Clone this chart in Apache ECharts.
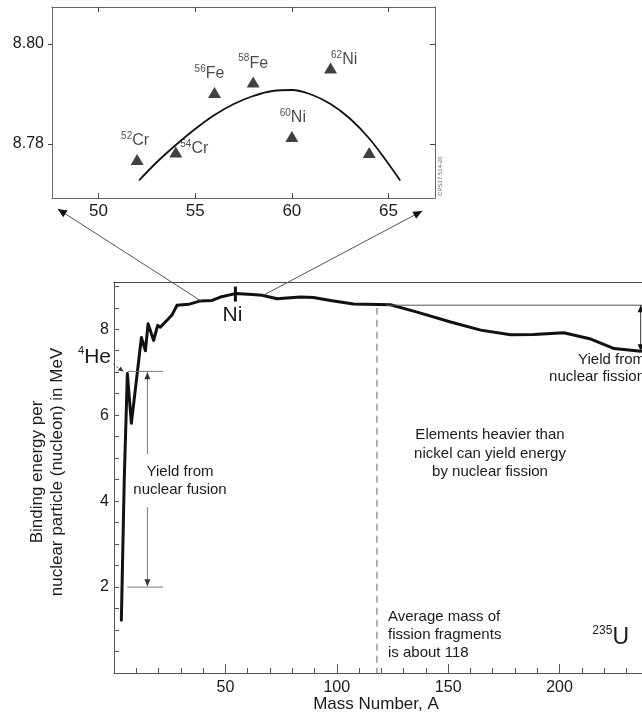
<!DOCTYPE html>
<html>
<head>
<meta charset="utf-8">
<script src="https://cdn.jsdelivr.net/npm/echarts@6/dist/echarts.min.js"></script>
<style>
  html, body { margin: 0; padding: 0; background: #fff; }
  #chart { width: 642px; height: 715px; }
</style>
</head>
<body>
<div id="chart"></div>
<script>
// Binding energy per nucleon (MeV) against mass number A
const massNumbers = [3.3, 4.6, 6.0, 7.8, 12.3, 14.1, 15.3, 17.8, 19.6, 20.8, 23.8, 26.0, 28.3, 33.5, 38.8, 44.0, 47.8, 54.5, 62.0, 66.5, 73.2, 83.7, 89.5, 97.2, 107.5, 124.1, 136.1, 151.1, 164.6, 178.0, 188.4, 201.9, 213.5, 224.5, 236.4];
const bindingEnergies = [1.23, 4.5, 6.97, 5.81, 7.81, 7.50, 8.13, 7.74, 8.09, 8.05, 8.21, 8.33, 8.56, 8.58, 8.66, 8.67, 8.75, 8.83, 8.81, 8.79, 8.71, 8.75, 8.74, 8.67, 8.59, 8.57, 8.40, 8.17, 7.98, 7.87, 7.88, 7.92, 7.78, 7.55, 7.49];

// Close-up of the iron / nickel peak
const insetCurveMass = [52.1, 53.0, 54.0, 55.0, 56.0, 57.0, 58.0, 59.0, 60.0, 61.0, 62.0, 63.0, 64.0, 65.0, 65.6];
const insetCurveEnergy = [8.7727, 8.7763, 8.7798, 8.7830, 8.7858, 8.7880, 8.7896, 8.7906, 8.7908, 8.7899, 8.7880, 8.7851, 8.7811, 8.7760, 8.7727];
const isotopeMass = [52, 54, 56, 58, 60, 62, 64];
const isotopeEnergy = [8.7769, 8.7784, 8.7903, 8.7924, 8.7815, 8.7952, 8.7783];
const isotopeMassText = ['52', '54', '56', '58', '60', '62', ''];
const isotopeSymbol = ['Cr', 'Cr', 'Fe', 'Fe', 'Ni', 'Ni', ''];

// Tick values
const mainXLabels = [50, 100, 150, 200];
const mainXMinorTicks = [10, 20, 30, 40, 60, 70, 80, 90, 110, 120, 130, 140, 160, 170, 180, 190, 210, 220, 230];
const mainYLabels = [2, 4, 6, 8];
const mainYTicks = [0.5, 1, 1.5, 2, 2.5, 3, 3.5, 4, 4.5, 5, 5.5, 6, 6.5, 7, 7.5, 8, 8.5, 9];
const insetXLabels = [50, 55, 60, 65];
const insetYLabels = [8.78, 8.80];

// Annotation values
const nickelMass = 54.5;
const nickelEnergy = 8.83;
const averageFragmentMass = 118;
const fissionTopEnergy = 8.56;
const fissionBottomEnergy = 7.49;
const fusionTopEnergy = 7.02;
const fusionBottomEnergy = 2.0;

const FONT = "'Liberation Sans', Arial, sans-serif";
const INK = '#1a1a1a';
const AXIS = '#555';

// label placement for the isotope markers
const isotopeLabelPlacement = [
  { position: 'top', distance: 3, offset: [-2, 0] },
  { position: 'right', distance: 0, offset: [-2, -3] },
  { position: 'top', distance: 3, offset: [-5, 0] },
  { position: 'top', distance: 3, offset: [0, 0] },
  { position: 'top', distance: 3, offset: [1, 0] },
  { position: 'right', distance: 0, offset: [-6, -8] },
  { show: false }
];

const supRich = {
  s: { fontSize: 10, fontFamily: FONT, color: INK, verticalAlign: 'top', lineHeight: 11 },
  e: { fontSize: 16, fontFamily: FONT, color: INK, lineHeight: 20 }
};

const hiddenAxisParts = { axisLabel: { show: false }, splitLine: { show: false } };

const option = {
  animation: false,
  backgroundColor: '#fff',
  grid: [
    { left: 114, top: 282, right: 0, bottom: 42 },
    { left: 52, top: 7, width: 383, height: 191 }
  ],
  xAxis: [
    {
      gridIndex: 0, type: 'value', position: 'bottom', min: 0, max: 237,
      axisLine: { lineStyle: { color: AXIS, width: 1 } },
      axisTick: { inside: true, length: 5, customValues: mainXMinorTicks, lineStyle: { color: AXIS } },
      axisLabel: { customValues: mainXLabels, fontSize: 16, color: INK, fontFamily: FONT, margin: 7 },
      splitLine: { show: false }
    },
    Object.assign({
      gridIndex: 0, type: 'value', position: 'bottom', min: 0, max: 237,
      axisLine: { show: false },
      axisTick: { inside: true, length: 9, customValues: mainXLabels, lineStyle: { color: AXIS } }
    }, hiddenAxisParts),
    Object.assign({
      gridIndex: 0, type: 'value', position: 'top', min: 0, max: 237,
      axisLine: { lineStyle: { color: '#444', width: 1 } },
      axisTick: { show: false }
    }, hiddenAxisParts),
    {
      gridIndex: 1, type: 'value', position: 'bottom', min: 47.6, max: 67.4,
      axisLine: { lineStyle: { color: '#666', width: 1 } },
      axisTick: { inside: true, length: 5, customValues: insetXLabels, lineStyle: { color: '#444' } },
      axisLabel: { customValues: insetXLabels, fontSize: 17, color: INK, fontFamily: FONT, margin: 5 },
      splitLine: { show: false }
    },
    Object.assign({
      gridIndex: 1, type: 'value', position: 'top', min: 47.6, max: 67.4,
      axisLine: { lineStyle: { color: '#666', width: 1 } },
      axisTick: { inside: true, length: 5, customValues: insetXLabels, lineStyle: { color: '#444' } }
    }, hiddenAxisParts)
  ],
  yAxis: [
    {
      gridIndex: 0, type: 'value', position: 'left', min: 0, max: 9.1,
      axisLine: { show: true, lineStyle: { color: AXIS, width: 1 } },
      axisTick: { show: true, inside: true, length: 5, customValues: mainYTicks, lineStyle: { color: AXIS } },
      axisLabel: { customValues: mainYLabels, fontSize: 16, color: INK, fontFamily: FONT, margin: 5 },
      splitLine: { show: false }
    },
    {
      gridIndex: 1, type: 'value', position: 'left', min: 8.7692, max: 8.8074,
      axisLine: { show: true, lineStyle: { color: '#666', width: 1 } },
      axisTick: { show: true, inside: false, length: 4, customValues: insetYLabels, lineStyle: { color: '#444' } },
      axisLabel: { customValues: insetYLabels, formatter: v => v.toFixed(2), fontSize: 16, color: INK, fontFamily: FONT, margin: 8 },
      splitLine: { show: false }
    },
    Object.assign({
      gridIndex: 1, type: 'value', position: 'right', min: 8.7692, max: 8.8074,
      axisLine: { show: true, lineStyle: { color: '#666', width: 1 } },
      axisTick: { show: true, inside: true, length: 5, customValues: insetYLabels, lineStyle: { color: '#444' } }
    }, hiddenAxisParts)
  ],
  series: [
    {
      name: 'Binding energy', type: 'line', xAxisIndex: 0, yAxisIndex: 0,
      data: massNumbers.map((a, i) => [a, bindingEnergies[i]]),
      symbol: 'none', silent: true, z: 5,
      lineStyle: { color: '#111', width: 3, join: 'round', cap: 'round' }
    },
    {
      name: 'Fitted peak', type: 'line', xAxisIndex: 3, yAxisIndex: 1,
      data: insetCurveMass.map((a, i) => [a, insetCurveEnergy[i]]),
      smooth: 0.4, symbol: 'none', silent: true,
      lineStyle: { color: '#111', width: 1.8 }
    },
    {
      name: 'Isotopes', type: 'scatter', xAxisIndex: 3, yAxisIndex: 1,
      symbol: 'triangle', symbolSize: [13, 11], silent: true,
      itemStyle: { color: '#111' },
      data: isotopeMass.map((a, i) => ({
        value: [a, isotopeEnergy[i]],
        label: Object.assign({
          show: true,
          formatter: '{s|' + isotopeMassText[i] + '}{e|' + isotopeSymbol[i] + '}',
          rich: supRich
        }, isotopeLabelPlacement[i])
      }))
    }
  ]
};

const chart = echarts.init(document.getElementById('chart'), null, { renderer: 'canvas' });
chart.setOption(option);

const P = p => chart.convertToPixel({ xAxisIndex: 0, yAxisIndex: 0 }, p);
const Q = p => chart.convertToPixel({ xAxisIndex: 3, yAxisIndex: 1 }, p);

function seg(a, b, style) {
  return {
    type: 'line', silent: true, z: 10,
    shape: { x1: a[0], y1: a[1], x2: b[0], y2: b[1] },
    style: Object.assign({ stroke: '#666', lineWidth: 1 }, style)
  };
}
function head(tip, from, len, half, color) {
  const dx = tip[0] - from[0], dy = tip[1] - from[1];
  const d = Math.hypot(dx, dy), ux = dx / d, uy = dy / d;
  const bx = tip[0] - ux * len, by = tip[1] - uy * len;
  return {
    type: 'polygon', silent: true, z: 11,
    shape: { points: [tip, [bx - uy * half, by + ux * half], [bx + uy * half, by - ux * half]] },
    style: { fill: color }
  };
}
function txt(x, y, text, opt) {
  return {
    type: 'text', x: x, y: y, silent: true, z: 12,
    rotation: opt.rotation || 0,
    style: Object.assign({
      text: text, fill: INK, fontFamily: FONT, fontSize: 15,
      align: 'center', verticalAlign: 'middle'
    }, opt.style || {})
  };
}

const g = [];

// connector lines from the main curve to the close-up frame
const leftFrom = P([39, 8.66]), leftTip = Q([47.9, 8.7670]);
const rightFrom = P([67, 8.79]), rightTip = Q([66.74, 8.7666]);
g.push(seg(leftFrom, leftTip, { stroke: '#555' }), head(leftTip, leftFrom, 9, 4, '#111'));
g.push(seg(rightFrom, rightTip, { stroke: '#555' }), head(rightTip, rightFrom, 9, 4, '#111'));

// nickel marker
const ni = P([nickelMass, nickelEnergy]);
g.push(seg([ni[0], ni[1] - 7], [ni[0], ni[1] + 8], { stroke: '#111', lineWidth: 3 }));
g.push(txt(ni[0] - 3, ni[1] + 22, 'Ni', { style: { fontSize: 21 } }));

// average fission fragment mass
g.push(seg(P([averageFragmentMass, 8.5]), P([averageFragmentMass, 0]), { stroke: '#999', lineWidth: 1.5, lineDash: [7, 5] }));

// fission yield bracket
g.push(seg(P([122, fissionTopEnergy]), P([237, fissionTopEnergy]), { stroke: '#555' }));
const fTop = P([236.4, fissionTopEnergy]), fBot = P([236.4, fissionBottomEnergy]);
g.push(seg(fTop, fBot, { stroke: '#333' }), head(fTop, fBot, 7, 3, '#111'), head(fBot, fTop, 7, 3, '#111'));

// fusion yield bracket
g.push(seg(P([6.2, fusionTopEnergy]), P([22, fusionTopEnergy]), { stroke: '#777' }));
g.push(seg(P([6.0, fusionBottomEnergy]), P([22, fusionBottomEnergy]), { stroke: '#777' }));
const upFrom = P([15, 5.1]), upTip = P([15, fusionTopEnergy - 0.02]);
const dnFrom = P([15, 3.86]), dnTip = P([15, fusionBottomEnergy + 0.02]);
g.push(seg(upFrom, upTip, { stroke: '#777' }), head(upTip, upFrom, 7, 3, '#333'));
g.push(seg(dnFrom, dnTip, { stroke: '#777' }), head(dnTip, dnFrom, 7, 3, '#333'));

// helium-4 pointer
const heFrom = P([-0.3, 7.19]), heTip = P([4.2, 7.02]);
g.push(seg(heFrom, heTip, { stroke: '#333', lineDash: [2, 2] }), head(heTip, heFrom, 5, 2.5, '#333'));

// text annotations
g.push(txt(111, 357, '{s|4}{e|He}', { style: {
  align: 'right', rich: {
    s: { fontSize: 11, fontFamily: FONT, fill: INK, verticalAlign: 'top', lineHeight: 12 },
    e: { fontSize: 21, fontFamily: FONT, fill: INK, lineHeight: 24 }
  } } }));
g.push(txt(180, 463, 'Yield from\nnuclear fusion', { style: { verticalAlign: 'top', lineHeight: 18 } }));
g.push(txt(490, 426, 'Elements heavier than\nnickel can yield energy\nby nuclear fission', { style: { verticalAlign: 'top', lineHeight: 18.5 } }));
g.push(txt(388, 608, 'Average mass of\nfission fragments\nis about 118', { style: { align: 'left', verticalAlign: 'top', lineHeight: 18 } }));
g.push(txt(645, 351, 'Yield from\nnuclear fission', { style: { align: 'right', verticalAlign: 'top', lineHeight: 17 } }));
g.push(txt(629, 638, '{s|235}{e|U}', { style: {
  align: 'right', rich: {
    s: { fontSize: 12, fontFamily: FONT, fill: INK, verticalAlign: 'top', lineHeight: 13 },
    e: { fontSize: 23, fontFamily: FONT, fill: INK, lineHeight: 26 }
  } } }));
g.push(txt(376, 704, 'Mass Number, A', { style: { fontSize: 17 } }));
g.push(txt(47, 472, 'Binding energy per\nnuclear particle (nucleon) in MeV', { rotation: Math.PI / 2, style: { fontSize: 17, lineHeight: 20 } }));
g.push(txt(440, 176, 'CPS17.514-20', { rotation: Math.PI / 2, style: { fontSize: 6, fill: '#666' } }));

chart.setOption({ graphic: g });
</script>
</body>
</html>
